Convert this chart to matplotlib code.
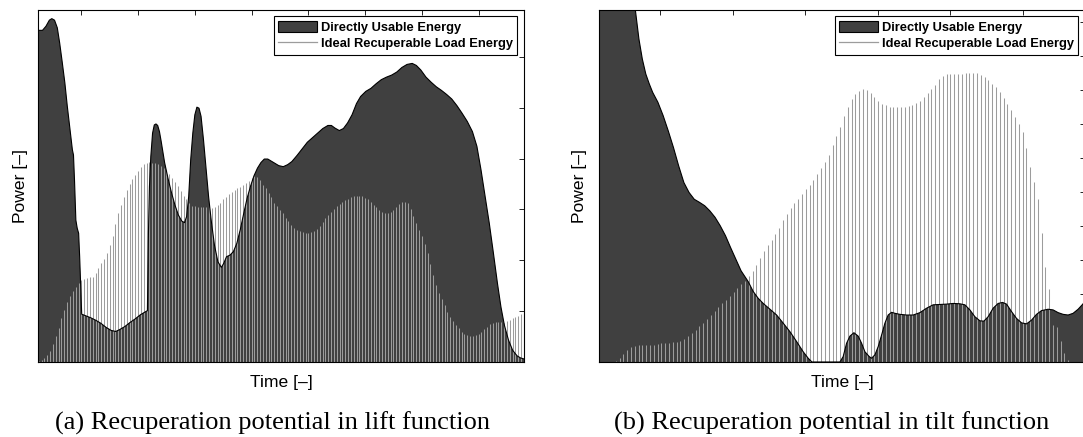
import numpy as np
import matplotlib
matplotlib.use("Agg")
import matplotlib.pyplot as plt
from matplotlib.patches import Patch
from matplotlib.lines import Line2D

OUT_PATH = "out.png"

AREA_COLOR = "#404040"
STEM_COLOR = "#9c9c9c"
SANS = ["Liberation Sans", "DejaVu Sans"]
SERIF = ["Liberation Serif", "DejaVu Serif"]

# --- Lift function ---
# load energy is sampled every 0.05 time units starting at 0.25
lift_load_start, lift_load_step = 0.25, 0.05
lift_load = [
    0.02, 0.04, 0.07, 0.13, 0.22, 0.35, 0.51, 0.67, 0.86, 1.02,
    1.18, 1.30, 1.39, 1.47, 1.55, 1.61, 1.64, 1.66, 1.67, 1.68,
    1.75, 1.85, 1.94, 2.02, 2.14, 2.30, 2.48, 2.71, 2.92, 3.09,
    3.24, 3.38, 3.50, 3.59, 3.68, 3.76, 3.83, 3.89, 3.91, 3.93,
    3.92, 3.91, 3.90, 3.86, 3.82, 3.78, 3.70, 3.61, 3.54, 3.46,
    3.37, 3.27, 3.20, 3.12, 3.07, 3.06, 3.05, 3.04, 3.04, 3.04,
    3.04, 3.03, 3.04, 3.09, 3.13, 3.20, 3.25, 3.30, 3.34, 3.38,
    3.42, 3.45, 3.48, 3.52, 3.56, 3.61, 3.65, 3.63, 3.57, 3.48,
    3.42, 3.33, 3.24, 3.13, 3.07, 2.99, 2.92, 2.84, 2.77, 2.70,
    2.64, 2.60, 2.57, 2.56, 2.54, 2.54, 2.56, 2.58, 2.61, 2.68,
    2.75, 2.83, 2.89, 2.94, 3.00, 3.06, 3.10, 3.14, 3.18, 3.21,
    3.24, 3.26, 3.27, 3.27, 3.26, 3.23, 3.20, 3.15, 3.09, 3.04,
    2.99, 2.95, 2.92, 2.92, 2.94, 2.99, 3.04, 3.11, 3.15, 3.15,
    3.12, 3.00, 2.87, 2.74, 2.60, 2.48, 2.32, 2.14, 1.93, 1.72,
    1.51, 1.36, 1.23, 1.12, 0.99, 0.89, 0.80, 0.72, 0.66, 0.59,
    0.56, 0.53, 0.52, 0.51, 0.53, 0.55, 0.59, 0.64, 0.69, 0.74,
    0.77, 0.78, 0.79, 0.78, 0.77, 0.81, 0.83, 0.86, 0.89, 0.91,
    0.94, 0.95,
]
lift_usable_t = [
    0.236, 0.315, 0.376, 0.436, 0.479, 0.527, 0.576, 0.618, 0.661, 0.709,
    0.752, 0.800, 0.842, 0.861, 0.879, 0.903, 0.927, 0.952, 0.970, 0.988,
    1.006, 1.073, 1.164, 1.255, 1.345, 1.436, 1.527, 1.606, 1.679, 1.770,
    1.861, 1.952, 2.042, 2.133, 2.164, 2.182, 2.200, 2.224, 2.255, 2.285,
    2.315, 2.345, 2.376, 2.406, 2.467, 2.527, 2.588, 2.648, 2.709, 2.770,
    2.818, 2.855, 2.891, 2.927, 2.964, 3.000, 3.036, 3.073, 3.109, 3.152,
    3.194, 3.242, 3.291, 3.345, 3.406, 3.467, 3.509, 3.558, 3.618, 3.679,
    3.739, 3.800, 3.861, 3.921, 3.982, 4.042, 4.103, 4.164, 4.224, 4.285,
    4.345, 4.406, 4.479, 4.558, 4.636, 4.709, 4.800, 4.891, 4.982, 5.073,
    5.164, 5.255, 5.345, 5.406, 5.467, 5.545, 5.618, 5.691, 5.770, 5.848,
    5.921, 6.012, 6.103, 6.194, 6.285, 6.376, 6.467, 6.558, 6.648, 6.739,
    6.830, 6.903, 6.982, 7.073, 7.164, 7.255, 7.345, 7.436, 7.527, 7.618,
    7.709, 7.800, 7.891, 7.970, 8.042, 8.115, 8.188, 8.261, 8.333, 8.394,
    8.455, 8.527, 8.600, 8.679, 8.739, 8.800,
]
lift_usable = [
    6.52, 6.52, 6.60, 6.72, 6.75, 6.72, 6.57, 6.27, 5.91, 5.49,
    5.03, 4.57, 4.17, 4.07, 3.58, 2.79, 2.63, 2.53, 2.07, 1.48,
    0.94, 0.91, 0.87, 0.82, 0.76, 0.68, 0.62, 0.60, 0.64, 0.70,
    0.78, 0.85, 0.93, 0.99, 1.01, 2.53, 3.45, 4.04, 4.50, 4.66,
    4.68, 4.65, 4.53, 4.34, 3.92, 3.61, 3.33, 3.09, 2.89, 2.77,
    2.74, 2.86, 3.25, 3.98, 4.50, 4.86, 5.01, 4.99, 4.83, 4.37,
    3.84, 3.25, 2.76, 2.30, 1.97, 1.86, 1.94, 2.07, 2.10, 2.17,
    2.33, 2.60, 2.92, 3.22, 3.46, 3.66, 3.81, 3.92, 3.99, 3.99,
    3.95, 3.91, 3.86, 3.84, 3.88, 3.94, 4.06, 4.19, 4.32, 4.41,
    4.50, 4.59, 4.65, 4.65, 4.60, 4.55, 4.59, 4.70, 4.86, 5.08,
    5.22, 5.32, 5.38, 5.47, 5.55, 5.60, 5.64, 5.70, 5.79, 5.85,
    5.87, 5.83, 5.74, 5.60, 5.50, 5.41, 5.34, 5.26, 5.17, 5.04,
    4.89, 4.73, 4.53, 4.24, 3.78, 3.25, 2.73, 2.14, 1.54, 1.08,
    0.72, 0.43, 0.23, 0.12, 0.08, 0.06,
]

# --- Tilt function ---
tilt_load_start, tilt_load_step = 0.174, 0.0525
tilt_load = [
    0.00, 0.00, 0.00, 0.00, 0.03, 0.13, 0.23, 0.36, 0.43, 0.47,
    0.49, 0.50, 0.50, 0.50, 0.51, 0.52, 0.55, 0.56, 0.57, 0.59,
    0.60, 0.63, 0.68, 0.75, 0.84, 0.95, 1.06, 1.16, 1.27, 1.39,
    1.49, 1.61, 1.72, 1.82, 1.94, 2.05, 2.16, 2.28, 2.39, 2.52,
    2.68, 2.85, 3.05, 3.26, 3.43, 3.58, 3.75, 3.94, 4.16, 4.34,
    4.52, 4.68, 4.80, 4.93, 5.07, 5.21, 5.35, 5.52, 5.70, 5.88,
    6.09, 6.37, 6.65, 6.89, 7.23, 7.50, 7.72, 7.86, 7.96, 8.01,
    7.99, 7.89, 7.78, 7.68, 7.58, 7.54, 7.50, 7.48, 7.48, 7.48,
    7.49, 7.51, 7.55, 7.60, 7.68, 7.78, 7.89, 8.02, 8.15, 8.31,
    8.40, 8.45, 8.47, 8.47, 8.47, 8.47, 8.48, 8.49, 8.49, 8.48,
    8.44, 8.37, 8.29, 8.18, 8.08, 7.93, 7.75, 7.57, 7.39, 7.20,
    6.98, 6.75, 6.28, 5.73, 5.28, 4.78, 3.80, 2.78, 2.14, 1.09,
    1.04, 0.63, 0.27, 0.06, 0.00, 0.00, 0.00, 0.00,
]
tilt_usable_t = [
    0.153, 0.374, 0.553, 0.655, 0.704, 0.751, 0.799, 0.847, 0.894, 0.966,
    1.038, 1.109, 1.181, 1.253, 1.325, 1.396, 1.468, 1.540, 1.612, 1.683,
    1.755, 1.827, 1.899, 1.970, 2.042, 2.114, 2.213, 2.282, 2.351, 2.420,
    2.513, 2.605, 2.696, 2.789, 2.881, 2.972, 3.041, 3.092, 3.479, 3.524,
    3.571, 3.617, 3.672, 3.731, 3.778, 3.824, 3.883, 3.916, 3.962, 4.007,
    4.054, 4.100, 4.145, 4.192, 4.238, 4.307, 4.399, 4.490, 4.583, 4.675,
    4.766, 4.859, 4.951, 5.042, 5.135, 5.204, 5.273, 5.342, 5.411, 5.466,
    5.525, 5.594, 5.663, 5.724, 5.779, 5.848, 5.917, 5.986, 6.055, 6.124,
    6.193, 6.262, 6.353, 6.422, 6.491, 6.560, 6.629, 6.698, 6.767, 6.832,
    6.860,
]
tilt_usable = [
    13.0, 12.0, 11.0, 10.34, 9.49, 8.90, 8.46, 8.17, 7.92, 7.63,
    7.24, 6.79, 6.30, 5.76, 5.27, 4.98, 4.78, 4.69, 4.59, 4.44,
    4.25, 4.00, 3.71, 3.36, 3.02, 2.68, 2.36, 2.07, 1.87, 1.72,
    1.55, 1.38, 1.14, 0.89, 0.60, 0.30, 0.11, 0.00, 0.00, 0.16,
    0.55, 0.76, 0.86, 0.76, 0.55, 0.30, 0.16, 0.11, 0.21, 0.45,
    0.79, 1.14, 1.38, 1.46, 1.43, 1.40, 1.38, 1.38, 1.45, 1.58,
    1.68, 1.69, 1.70, 1.72, 1.71, 1.68, 1.53, 1.33, 1.21, 1.20,
    1.33, 1.58, 1.72, 1.75, 1.70, 1.48, 1.28, 1.15, 1.12, 1.23,
    1.40, 1.51, 1.55, 1.53, 1.45, 1.40, 1.38, 1.43, 1.55, 1.70,
    1.78,
]


def draw_panel(ax, load_start, load_step, load, usable_t, usable, xlim, ylim, xticks, yticks):
    """
    Directly usable energy as a dark area, ideal recuperable load energy as thin stems.
    """
    load_t = load_start + load_step * np.arange(len(load))
    ax.fill_between(usable_t, 0, usable, facecolor=AREA_COLOR, edgecolor="none", zorder=1)
    ax.vlines(load_t, 0, load, colors=STEM_COLOR, linewidth=0.75, zorder=2)
    ax.plot(usable_t, usable, color="black", linewidth=0.8, zorder=3)

    ax.set_xlim(*xlim)
    ax.set_ylim(*ylim)
    ax.set_xticks(xticks)
    ax.set_yticks(yticks)
    ax.set_axisbelow(True)
    ax.tick_params(direction="in", top=True, right=True, bottom=False, left=False,
                   labeltop=False, labelright=False, labelbottom=False, labelleft=False,
                   length=3.6, width=0.6)
    for s in ax.spines.values():
        s.set_linewidth(0.8)

    handles = [
        Patch(facecolor=AREA_COLOR, edgecolor="black", linewidth=0.8),
        Line2D([], [], color=STEM_COLOR, linewidth=0.9),
    ]
    leg = ax.legend(handles, ["Directly Usable Energy", "Ideal Recuperable Load Energy"],
                    loc="upper right", bbox_to_anchor=(0.986, 0.982), borderaxespad=0,
                    prop={"family": SANS, "weight": "bold", "size": 9.3},
                    fancybox=False, framealpha=1, edgecolor="black",
                    borderpad=0.35, labelspacing=0.25, handlelength=3.0,
                    handleheight=1.0, handletextpad=0.3)
    leg.get_frame().set_linewidth(0.8)
    leg.set_zorder(5)


fig = plt.figure(figsize=(10.83, 4.37), dpi=100)
ax_lift = fig.add_axes([0.03509, 0.17162, 0.44875, 0.80549])
ax_tilt = fig.add_axes([0.55309, 0.17162, 0.44875, 0.80549])

draw_panel(ax_lift, lift_load_start, lift_load_step, lift_load, lift_usable_t, lift_usable,
           (0.236, 8.80), (0, 6.92), range(1, 9), range(1, 7))
draw_panel(ax_tilt, tilt_load_start, tilt_load_step, tilt_load, tilt_usable_t, tilt_usable,
           (0.153, 6.862), (0, 10.34), range(1, 7), range(1, 11))

# axis labels and sub-captions
for x_power, x_time, x_cap, cap in [
    (0.0189, 0.2595, 0.2512, "(a) Recuperation potential in lift function"),
    (0.5355, 0.7775, 0.7682, "(b) Recuperation potential in tilt function"),
]:
    fig.text(x_power, 0.5755, "Power [\u2013]", rotation=90, ha="center", va="center",
             family=SANS, fontsize=12.6)
    fig.text(x_time, 0.1135, "Time [\u2013]", ha="center", va="baseline",
             family=SANS, fontsize=12.6)
    fig.text(x_cap, 0.016, cap, ha="center", va="baseline", family=SERIF, fontsize=19)

fig.savefig(OUT_PATH, dpi=100, facecolor="white")
